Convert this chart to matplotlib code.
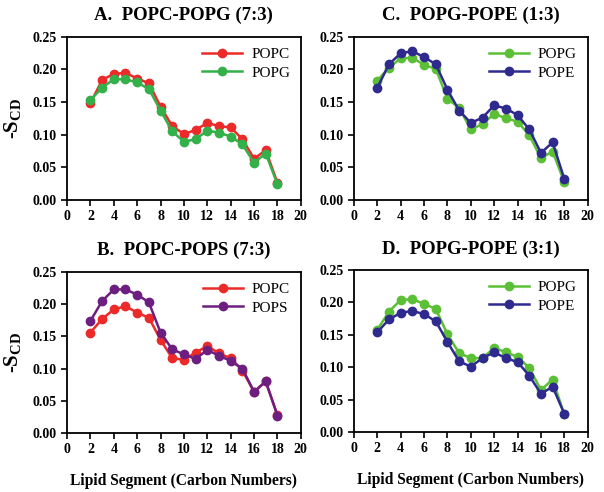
import numpy as np
import matplotlib
matplotlib.use('Agg')
from matplotlib import pyplot as plt

plt.rcParams['font.family'] = ['Liberation Serif', 'DejaVu Serif']

carbons = list(range(2, 19))

# A. POPC-POPG (7:3)
a_popc = [0.148, 0.184, 0.193, 0.195, 0.186, 0.179, 0.143, 0.113, 0.101, 0.107, 0.118, 0.113, 0.111, 0.093, 0.063, 0.076, 0.026]
a_popg = [0.153, 0.172, 0.185, 0.185, 0.180, 0.170, 0.137, 0.105, 0.089, 0.093, 0.106, 0.103, 0.097, 0.085, 0.057, 0.071, 0.024]
# B. POPC-POPS (7:3)
b_popc = [0.156, 0.177, 0.192, 0.197, 0.187, 0.179, 0.145, 0.116, 0.114, 0.125, 0.135, 0.124, 0.116, 0.097, 0.064, 0.080, 0.028]
b_pops = [0.174, 0.205, 0.223, 0.223, 0.215, 0.203, 0.156, 0.130, 0.122, 0.115, 0.129, 0.120, 0.112, 0.100, 0.064, 0.080, 0.027]
# C. POPG-POPE (1:3)
c_popg = [0.183, 0.203, 0.217, 0.218, 0.207, 0.201, 0.155, 0.141, 0.108, 0.116, 0.132, 0.125, 0.120, 0.099, 0.064, 0.074, 0.027]
c_pope = [0.172, 0.208, 0.225, 0.228, 0.219, 0.208, 0.169, 0.137, 0.118, 0.126, 0.145, 0.140, 0.130, 0.108, 0.072, 0.088, 0.032]
# D. POPG-POPE (3:1)
d_popg = [0.158, 0.186, 0.204, 0.205, 0.198, 0.190, 0.151, 0.122, 0.114, 0.114, 0.130, 0.123, 0.116, 0.099, 0.065, 0.081, 0.027]
d_pope = [0.154, 0.174, 0.184, 0.187, 0.182, 0.171, 0.139, 0.109, 0.101, 0.114, 0.123, 0.114, 0.108, 0.087, 0.059, 0.070, 0.028]

RED = '#ec2a2a'
GREEN_A = '#33b04a'
GREEN = '#5cc037'
NAVY = '#2e2a8e'
PURPLE = '#6c1f80'

panels = [
    # title, rect, series, show xlabel, show ylabel
    ('A.  POPC-POPG (7:3)', [0.111, 0.594, 0.387, 0.331],
     [(a_popc, RED, 'POPC'), (a_popg, GREEN_A, 'POPG')], False, True),
    ('C.  POPG-POPE (1:3)', [0.586, 0.594, 0.387, 0.331],
     [(c_popg, GREEN, 'POPG'), (c_pope, NAVY, 'POPE')], False, False),
    ('B.  POPC-POPS (7:3)', [0.111, 0.120, 0.387, 0.327],
     [(b_popc, RED, 'POPC'), (b_pops, PURPLE, 'POPS')], True, True),
    ('D.  POPG-POPE (3:1)', [0.586, 0.122, 0.387, 0.329],
     [(d_popg, GREEN, 'POPG'), (d_pope, NAVY, 'POPE')], True, False),
]

fig = plt.figure(figsize=(6.04, 4.92), dpi=100)

for title, rect, series, xlab, ylab in panels:
    ax = fig.add_axes(rect)
    for vals, col, lab in series:
        ax.plot(carbons, vals, '-o', color=col, lw=1.8, ms=6, label=lab)
    ax.set_xlim(0, 20)
    ax.set_ylim(0, 0.25)
    ax.set_xticks(np.arange(0, 21, 2))
    ax.set_yticks(np.arange(0, 0.26, 0.05))
    ax.set_yticklabels(['%.2f' % v for v in np.arange(0, 0.26, 0.05)])
    ax.tick_params(direction='out', length=4, width=1.2, labelsize=10,
                   top=False, right=False)
    for lbl in ax.get_xticklabels() + ax.get_yticklabels():
        lbl.set_fontweight('bold')
    for sp in ax.spines.values():
        sp.set_linewidth(1.3)
    ax.set_title(title, fontsize=13.5, fontweight='bold', pad=12)
    if ylab:
        ax.set_ylabel(r'-S$_{\mathregular{CD}}$', fontsize=15, fontweight='bold', labelpad=6)
    if xlab:
        ax.set_xlabel('Lipid Segment (Carbon Numbers)', fontsize=11.2, fontweight='bold', labelpad=12)
    ax.legend(loc='upper right', frameon=False, fontsize=11, handlelength=2.6,
              borderaxespad=0.3, labelspacing=0.3, handletextpad=0.6)

fig.savefig('out.png', dpi=100)
